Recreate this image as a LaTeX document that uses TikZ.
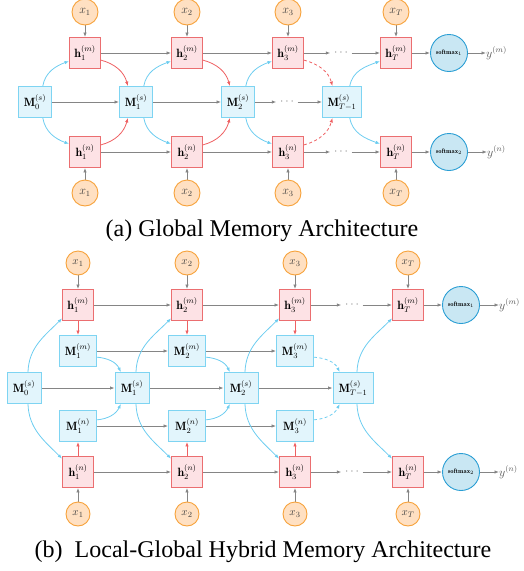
\documentclass[tikz,border=0pt]{standalone}
\usepackage{fontspec}
\newfontfamily\capfont{Liberation Serif}
\usetikzlibrary{arrows.meta}
\pgfdeclarelayer{bg}
\pgfsetlayers{bg,main}
\definecolor{hfill}{HTML}{FDE2E5}
\definecolor{hdraw}{HTML}{EB6E70}
\definecolor{mfill}{HTML}{E2F5FC}
\definecolor{mdraw}{HTML}{7ED4F2}
\definecolor{xfill}{HTML}{FFE0C2}
\definecolor{xdraw}{HTML}{F7A23A}
\definecolor{sfill}{HTML}{C9E7F3}
\definecolor{sdraw}{HTML}{2A9ED4}
\definecolor{garr}{HTML}{858585}
\definecolor{barr}{HTML}{6DCDF0}
\definecolor{rarr}{HTML}{EE6163}
\definecolor{ytext}{HTML}{555555}
\tikzset{
  boxfont/.style={font=\fontsize{12}{14}\selectfont},
  hbox/.style={draw=hdraw, fill=hfill, line width=0.9pt, minimum width=31pt, minimum height=31pt, inner sep=0pt, boxfont},
  mbox/.style={draw=mdraw, fill=mfill, line width=0.9pt, minimum width=33pt, minimum height=31pt, inner sep=0pt, boxfont},
  xnode/.style={circle, draw=xdraw, fill=xfill, line width=0.9pt, minimum size=26pt, inner sep=0pt, text=black!75, boxfont},
  xsmall/.style={xnode, minimum size=24pt, font=\fontsize{11}{13}\selectfont},
  smnode/.style={circle, draw=sdraw, fill=sfill, line width=0.9pt, minimum size=37pt, inner sep=0pt, font=\fontsize{6.5}{7.5}\selectfont},
  ylab/.style={anchor=west, inner sep=0pt, text=ytext, boxfont},
  dotsn/.style={inner sep=3.5pt, text=garr, boxfont},
  tip/.style={-{Latex[length=4.5pt,width=3.5pt]}},
  ga/.style={draw=garr, line width=0.8pt, tip},
  ba/.style={draw=barr, line width=0.8pt, tip},
  ra/.style={draw=rarr, line width=0.8pt, tip},
  dsh/.style={dash pattern=on 3pt off 2.5pt},
  captext/.style={font=\capfont\fontsize{24}{28}\selectfont}
}
\begin{document}
\begin{tikzpicture}[x=1pt,y=1pt]
\useasboundingbox (0,0) rectangle (523,-571);
% ================= (a) =================
\foreach \n/\x/\s in {1/85/1,2/187/2,3/288/3,T/396/T}{
  \node[xnode] (ax\n) at (\x,-12) {$x_\s$};
  \node[hbox] (ahm\n) at (\x,-53) {$\mathbf{h}_\s^{(m)}$};
  \node[hbox] (ahn\n) at (\x,-152) {$\mathbf{h}_\s^{(n)}$};
  \node[xnode] (axb\n) at (\x,-193) {$x_\s$};
}
\node[mbox] (aM0) at (35,-102) {$\mathbf{M}_0^{(s)}$};
\node[mbox] (aM1) at (136,-102) {$\mathbf{M}_1^{(s)}$};
\node[mbox] (aM2) at (238,-102) {$\mathbf{M}_2^{(s)}$};
\node[mbox, minimum width=39pt] (aMT) at (342,-102) {$\mathbf{M}_{T-1}^{(s)}$};
\node[dotsn] (adm) at (341,-53) {$\cdots$};
\node[dotsn] (adn) at (341,-152) {$\cdots$};
\node[dotsn] (ads) at (287,-102) {$\cdots$};
\node[smnode] (asm1) at (449,-53) {$\mathbf{softmax}_1$};
\node[smnode] (asm2) at (449,-152) {$\mathbf{softmax}_2$};
\node[ylab] (ay1) at (486,-53) {$y^{(m)}$};
\node[ylab] (ay2) at (487,-152) {$y^{(n)}$};
\node[captext] (capa) at (262,-231) {(a) Global Memory Architecture};
\begin{pgfonlayer}{bg}
\foreach \n in {1,2,3,T}{
  \draw[ga] (ax\n) -- (ahm\n);
  \draw[ga] (axb\n) -- (ahn\n);
}
\draw[ga] (ahm1) -- (ahm2);
\draw[ga] (ahm2) -- (ahm3);
\draw[ga] (ahm3) -- (adm);
\draw[ga] (adm) -- (ahmT);
\draw[ga] (ahmT) -- (asm1);
\draw[ga] (asm1) -- (ay1);
\draw[ga] (ahn1) -- (ahn2);
\draw[ga] (ahn2) -- (ahn3);
\draw[ga] (ahn3) -- (adn);
\draw[ga] (adn) -- (ahnT);
\draw[ga] (ahnT) -- (asm2);
\draw[ga] (asm2) -- (ay2);
\draw[ga] (aM0) -- (aM1);
\draw[ga] (aM1) -- (aM2);
\draw[ga] (aM2) -- (ads);
\draw[ga] (ads) -- (aMT);
\foreach \a/\b in {0/1,1/2,2/3,T/T}{
  \draw[ba] (aM\a.64) to[out=80,in=200] (ahm\b.207);
  \draw[ba] (aM\a.-64) to[out=-80,in=160] (ahn\b.153);
}
\foreach \a in {1,2}{
  \draw[ra] (ahm\a.-24) to[out=-15,in=105] (aM\a.117);
  \draw[ra] (ahn\a.24) to[out=15,in=255] (aM\a.243);
}
\draw[ra,dsh] (ahm3.-24) to[out=-15,in=105] (aMT.121);
\draw[ra,dsh] (ahn3.24) to[out=15,in=255] (aMT.239);
\end{pgfonlayer}
% ================= (b) =================
\foreach \n/\x/\s in {1/78/1,2/187/2,3/295/3,T/408/T}{
  \node[xsmall] (bx\n) at (\x,-263) {$x_\s$};
  \node[hbox] (bhm\n) at (\x,-305) {$\mathbf{h}_\s^{(m)}$};
  \node[hbox] (bhn\n) at (\x,-472) {$\mathbf{h}_\s^{(n)}$};
  \node[xsmall] (bxb\n) at (\x,-514) {$x_\s$};
}
\foreach \n/\x in {1/78,2/187,3/295}{
  \node[mbox, minimum width=37pt] (bMm\n) at (\x,-351) {$\mathbf{M}_\n^{(m)}$};
  \node[mbox, minimum width=37pt] (bMn\n) at (\x,-426) {$\mathbf{M}_\n^{(n)}$};
}
\node[mbox, minimum width=34pt] (bM0) at (24,-388) {$\mathbf{M}_0^{(s)}$};
\node[mbox, minimum width=34pt] (bM1) at (132,-388) {$\mathbf{M}_1^{(s)}$};
\node[mbox, minimum width=34pt] (bM2) at (241,-388) {$\mathbf{M}_2^{(s)}$};
\node[mbox, minimum width=40pt] (bMT) at (353,-388) {$\mathbf{M}_{T-1}^{(s)}$};
\node[dotsn] (bdm) at (352,-305) {$\cdots$};
\node[dotsn] (bdn) at (352,-472) {$\cdots$};
\node[smnode] (bsm1) at (461,-305) {$\mathbf{softmax}_1$};
\node[smnode] (bsm2) at (461,-472) {$\mathbf{softmax}_2$};
\node[ylab] (by1) at (499,-305) {$y^{(m)}$};
\node[ylab] (by2) at (499,-472) {$y^{(n)}$};
\node[captext] (capb) at (263,-552) {(b)\hspace{0.5em}Local-Global Hybrid Memory Architecture};
\begin{pgfonlayer}{bg}
\foreach \n in {1,2,3,T}{
  \draw[ga] (bx\n) -- (bhm\n);
  \draw[ga] (bxb\n) -- (bhn\n);
}
\draw[ga] (bhm1) -- (bhm2);
\draw[ga] (bhm2) -- (bhm3);
\draw[ga] (bhm3) -- (bdm);
\draw[ga] (bdm) -- (bhmT);
\draw[ga] (bhmT) -- (bsm1);
\draw[ga] (bsm1) -- (by1);
\draw[ga] (bhn1) -- (bhn2);
\draw[ga] (bhn2) -- (bhn3);
\draw[ga] (bhn3) -- (bdn);
\draw[ga] (bdn) -- (bhnT);
\draw[ga] (bhnT) -- (bsm2);
\draw[ga] (bsm2) -- (by2);
\draw[ga] (bMm1) -- (bMm2);
\draw[ga] (bMm2) -- (bMm3);
\draw[ga] (bMn1) -- (bMn2);
\draw[ga] (bMn2) -- (bMn3);
\draw[ga] (bM0) -- (bM1);
\draw[ga] (bM1) -- (bM2);
\draw[ga] (bM2) -- (bMT);
\foreach \n in {1,2,3}{
  \draw[ra] (bhm\n) -- (bMm\n);
  \draw[ra] (bhn\n) -- (bMn\n);
}
\foreach \a in {1,2}{
  \draw[ba] (bMm\a.-18) to[out=-5,in=115] (bM\a.125);
  \draw[ba] (bMn\a.18) to[out=5,in=245] (bM\a.235);
}
\draw[ba,dsh] (bMm3.-18) to[out=-5,in=115] (bMT.130);
\draw[ba,dsh] (bMn3.18) to[out=5,in=245] (bMT.230);
\foreach \a/\b in {0/1,1/2,2/3,T/T}{
  \draw[ba] (bM\a.76) to[out=88,in=225] (bhm\b.220);
  \draw[ba] (bM\a.-76) to[out=-88,in=135] (bhn\b.140);
}
\end{pgfonlayer}
\end{tikzpicture}
\end{document}
